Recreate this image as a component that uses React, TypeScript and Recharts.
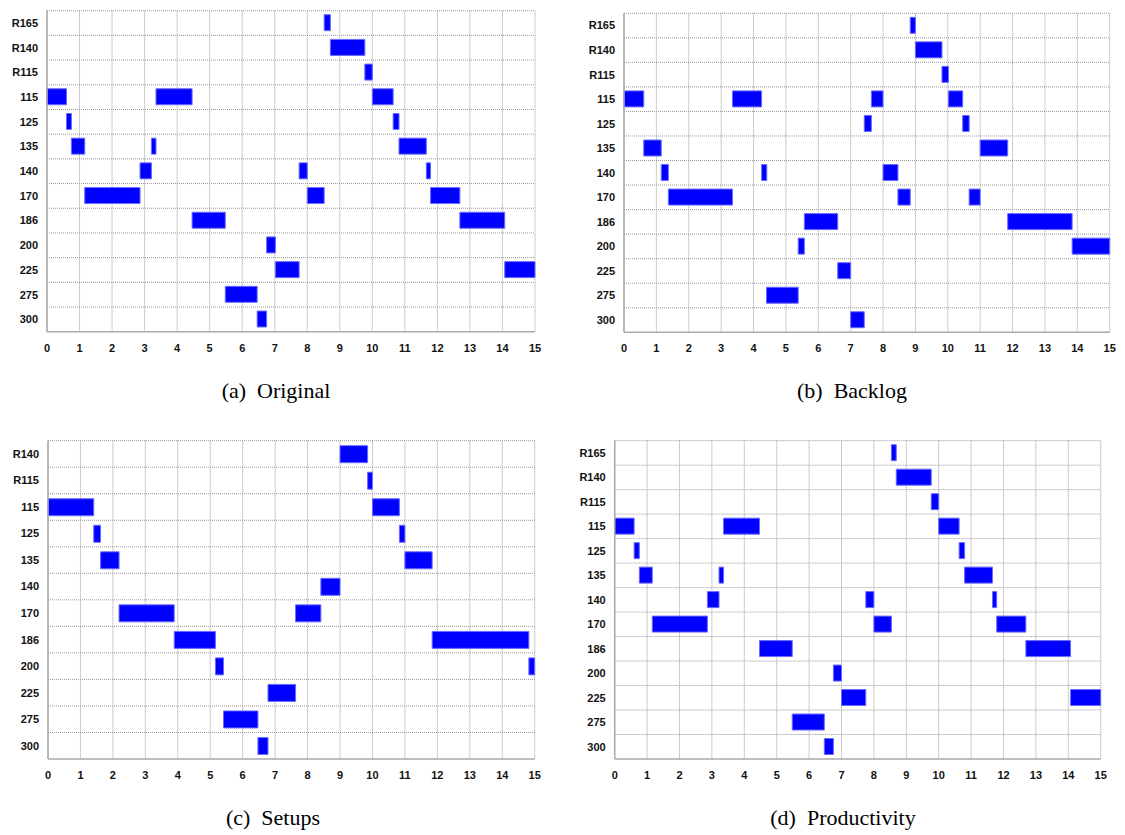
import { BarChart, Bar, XAxis, YAxis, CartesianGrid } from "recharts";

type Seg = [number, number] | null;

// machine / job rows, top to bottom
const jobsFull = ["R165", "R140", "R115", "115", "125", "135", "140", "170", "186", "200", "225", "275", "300"];
const jobsSetups = ["R140", "R115", "115", "125", "135", "140", "170", "186", "200", "225", "275", "300"];
const hours = [0, 1, 2, 3, 4, 5, 6, 7, 8, 9, 10, 11, 12, 13, 14, 15];

// (a) Original — each array is one run per row (start, end)
const originalRun1: Seg[] = [
  [8.52, 8.71], [8.71, 9.77], [9.77, 10.0], [0, 0.6], [0.6, 0.75], [0.75, 1.16], [2.86, 3.21],
  [1.16, 2.86], [4.46, 5.48], [6.75, 7.02], [7.02, 7.75], [5.48, 6.46], [6.46, 6.75],
];
const originalRun2: Seg[] = [
  null, null, null, [3.35, 4.46], [10.64, 10.82], [3.21, 3.35], [7.75, 8.0],
  [8.0, 8.52], [12.69, 14.07], null, [14.07, 15.0], null, null,
];
const originalRun3: Seg[] = [
  null, null, null, [10.0, 10.64], null, [10.82, 11.66], [11.66, 11.79],
  [11.79, 12.69], null, null, null, null, null,
];

// (b) Backlog
const backlogRun1: Seg[] = [
  [8.84, 9.0], [9.0, 9.82], [9.82, 10.02], [0, 0.61], [7.42, 7.64], [0.61, 1.15], [1.15, 1.37],
  [1.37, 3.35], [5.57, 6.6], [5.38, 5.57], [6.6, 7.0], [4.4, 5.38], [7.0, 7.42],
];
const backlogRun2: Seg[] = [
  null, null, null, [3.35, 4.25], [10.46, 10.66], [11.0, 11.85], [4.25, 4.41],
  [8.46, 8.84], [11.85, 13.84], [13.84, 15.0], null, null, null,
];
const backlogRun3: Seg[] = [
  null, null, null, [7.64, 8.0], null, null, [8.0, 8.46],
  [10.66, 11.0], null, null, null, null, null,
];
const backlogRun4: Seg[] = [
  null, null, null, [10.02, 10.46], null, null, null,
  null, null, null, null, null, null,
];

// (c) Setups
const setupsRun1: Seg[] = [
  [9.0, 9.85], [9.85, 10.0], [0, 1.41], [1.41, 1.62], [1.62, 2.19], [8.41, 9.0],
  [2.19, 3.89], [3.89, 5.16], [5.16, 5.41], [6.78, 7.63], [5.41, 6.47], [6.47, 6.78],
];
const setupsRun2: Seg[] = [
  null, null, [10.0, 10.83], [10.83, 11.0], [11.0, 11.84], null,
  [7.63, 8.41], [11.84, 14.82], [14.82, 15.0], null, null, null,
];

// (d) Productivity
const productivityRun1: Seg[] = [
  [8.54, 8.69], [8.69, 9.77], [9.77, 10.0], [0, 0.6], [0.6, 0.76], [0.76, 1.16], [2.86, 3.22],
  [1.16, 2.86], [4.47, 5.48], [6.75, 7.0], [7.0, 7.75], [5.48, 6.47], [6.47, 6.75],
];
const productivityRun2: Seg[] = [
  null, null, null, [3.36, 4.47], [10.63, 10.8], [3.22, 3.36], [7.75, 8.0],
  [8.0, 8.54], [12.69, 14.07], null, [14.07, 15.0], null, null,
];
const productivityRun3: Seg[] = [
  null, null, null, [10.0, 10.63], null, [10.8, 11.66], [11.66, 11.79],
  [11.79, 12.69], null, null, null, null, null,
];

const tickStyle = { fontSize: 11, fontWeight: 700, fill: "#111", fontFamily: "'Liberation Sans', Arial, sans-serif" };
const axisStyle = { stroke: "#aaa", strokeWidth: 1.5 };

type Box = { left: number; top: number; width: number; height: number };
type Plot = { l: number; r: number; t: number; b: number };

function Panel(props: {
  rows: string[];
  runs: Seg[][];
  caption: string;
  captionX: number;
  captionY: number;
  box: Box;
  plot: Plot;
  barSize: number;
}) {
  const { rows, runs, caption, captionX, captionY, box, plot, barSize } = props;
  const data = rows.map((job, i) => {
    const row: any = { job };
    runs.forEach((run, k) => {
      row["run" + k] = run[i];
    });
    return row;
  });
  const xAxisH = 20;
  const margin = {
    top: plot.t - box.top,
    right: box.left + box.width - plot.r,
    bottom: box.top + box.height - plot.b - xAxisH,
    left: 0,
  };
  const yWidth = plot.l - box.left;

  return (
    <>
      <div style={{ position: "absolute", left: box.left, top: box.top }}>
        <BarChart layout="vertical" width={box.width} height={box.height} data={data} margin={margin}>
          <CartesianGrid
            stroke="#999"
            strokeDasharray="1 1"
            horizontalCoordinatesGenerator={({ offset }: any) =>
              rows.map((_, i) => offset.top + (i * offset.height) / rows.length)
            }
          />
          <XAxis
            type="number"
            domain={[0, 15]}
            ticks={hours}
            interval={0}
            height={xAxisH}
            tickLine={false}
            tickSize={0}
            tickMargin={12}
            axisLine={axisStyle}
            tick={tickStyle}
          />
          {runs.map((_, k) => (
            <YAxis
              key={"y" + k}
              yAxisId={k}
              type="category"
              dataKey="job"
              hide={k > 0}
              width={yWidth}
              interval={0}
              tickLine={false}
              tickSize={0}
              tickMargin={9}
              axisLine={axisStyle}
              tick={tickStyle}
            />
          ))}
          {runs.map((_, k) => (
            <Bar
              key={"b" + k}
              yAxisId={k}
              dataKey={"run" + k}
              barSize={barSize}
              fill="#0000ff"
              stroke="#6b6bff"
              strokeWidth={1}
              isAnimationActive={false}
            />
          ))}
        </BarChart>
      </div>
      <div
        style={{
          position: "absolute",
          left: captionX - 150,
          top: captionY,
          width: 300,
          textAlign: "center",
          fontFamily: "'Liberation Serif', 'Times New Roman', serif",
          fontSize: 22,
          lineHeight: "25px",
          whiteSpace: "pre",
          color: "#000",
        }}
      >
        {caption}
      </div>
    </>
  );
}

export default function App() {
  return (
    <div style={{ position: "absolute", left: 0, top: 0, width: 1125, height: 835, background: "#fff" }}>
      <Panel
        rows={jobsFull}
        runs={[originalRun1, originalRun2, originalRun3]}
        caption="(a)  Original"
        captionX={276}
        captionY={378}
        box={{ left: 0, top: 0, width: 560, height: 360 }}
        plot={{ l: 47, r: 535, t: 10.7, b: 331.7 }}
        barSize={16}
      />
      <Panel
        rows={jobsFull}
        runs={[backlogRun1, backlogRun2, backlogRun3, backlogRun4]}
        caption="(b)  Backlog"
        captionX={852}
        captionY={378}
        box={{ left: 570, top: 0, width: 555, height: 360 }}
        plot={{ l: 624, r: 1109.7, t: 13.3, b: 332.3 }}
        barSize={16}
      />
      <Panel
        rows={jobsSetups}
        runs={[setupsRun1, setupsRun2]}
        caption="(c)  Setups"
        captionX={273}
        captionY={805}
        box={{ left: 0, top: 430, width: 560, height: 360 }}
        plot={{ l: 48, r: 534.7, t: 440.7, b: 759 }}
        barSize={17}
      />
      <Panel
        rows={jobsFull}
        runs={[productivityRun1, productivityRun2, productivityRun3]}
        caption="(d)  Productivity"
        captionX={843}
        captionY={805}
        box={{ left: 565, top: 430, width: 560, height: 360 }}
        plot={{ l: 614.7, r: 1100.7, t: 440.7, b: 759 }}
        barSize={16}
      />
    </div>
  );
}
